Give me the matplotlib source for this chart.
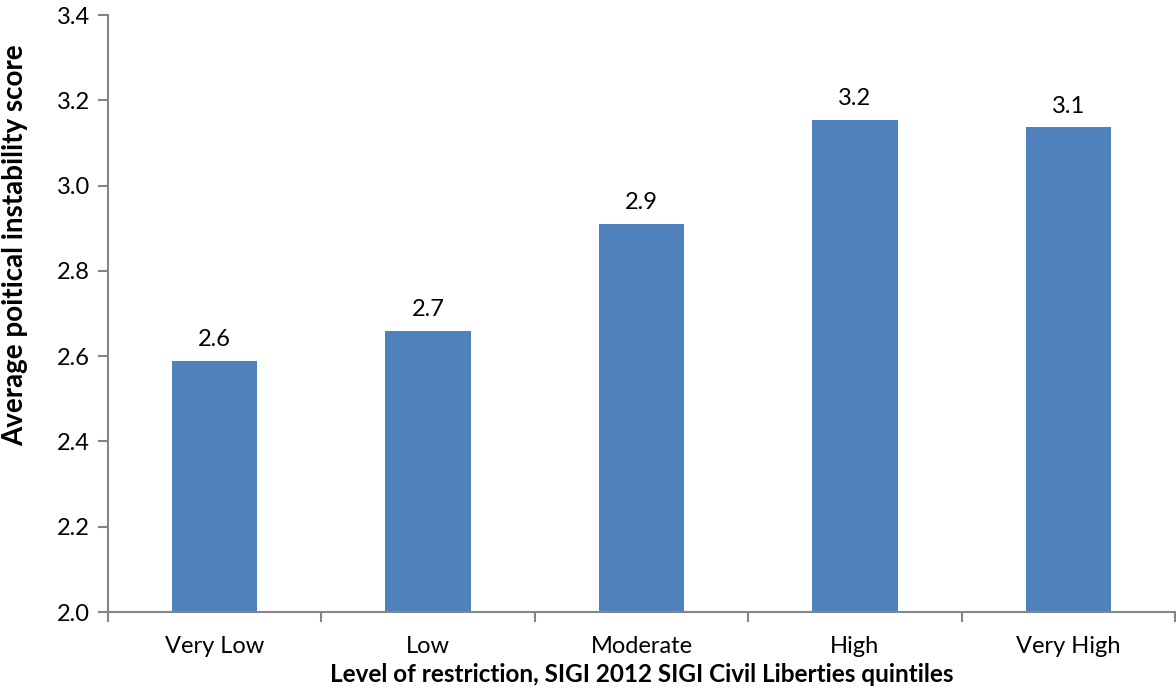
import matplotlib
matplotlib.use("Agg")
import matplotlib.pyplot as plt
import numpy as np

plt.rcParams['font.family'] = ['Lato', 'DejaVu Sans']

categorias = ['Very Low', 'Low', 'Moderate', 'High', 'Very High']
puntajes = [2.589, 2.659, 2.910, 3.154, 3.137]
y_ticks = [2.0, 2.2, 2.4, 2.6, 2.8, 3.0, 3.2, 3.4]

gris = '#868686'

fig = plt.figure(figsize=(11.76, 6.92), dpi=100)
ax = fig.add_axes([0.0918, 0.1156, 0.9073, 0.8627])

x = np.arange(len(categorias))
barras = ax.bar(x, puntajes, width=0.4, color='#4F81BD', zorder=2)

# etiquetas de valor sobre cada barra
for xi, v in zip(x, puntajes):
    ax.text(xi, v + 0.025, f'{v:.1f}', ha='center', va='bottom', fontsize=17)

ax.set_xlim(-0.5, len(categorias) - 0.5)
ax.set_ylim(2.0, 3.4)
ax.set_yticks(y_ticks)
ax.set_yticklabels([f'{t:.1f}' for t in y_ticks], fontsize=17)

ax.set_xticks(x)
ax.set_xticklabels(categorias, fontsize=17)
ax.tick_params(axis='x', which='major', length=0, pad=17)
# marcas menores entre categorias
ax.set_xticks(np.arange(-0.5, len(categorias)), minor=True)
ax.tick_params(axis='x', which='minor', length=7, color=gris, width=1.5)
ax.tick_params(axis='y', length=7, color=gris, width=1.5, pad=6)

for lado in ['top', 'right']:
    ax.spines[lado].set_visible(False)
for lado in ['left', 'bottom']:
    ax.spines[lado].set_color(gris)
    ax.spines[lado].set_linewidth(1.5)

ax.set_ylabel('Average poitical instability score', fontsize=20, fontweight='bold', va='center')
ax.yaxis.set_label_coords(-0.0872, 0.615)
ax.set_xlabel('Level of restriction, SIGI 2012 SIGI Civil Liberties quintiles', fontsize=17.5, fontweight='bold', va='center')
ax.xaxis.set_label_coords(0.5005, -0.1055)

fig.savefig('out.png', dpi=100)
